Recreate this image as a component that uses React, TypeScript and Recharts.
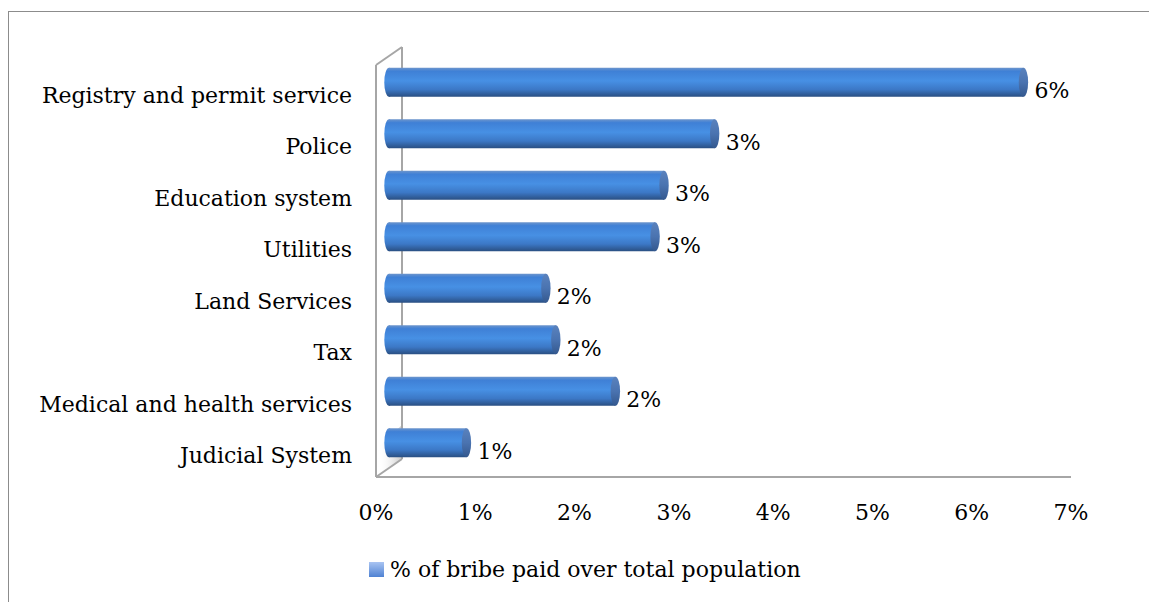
import React from 'react';
import { BarChart, Bar, XAxis, YAxis, Legend, LabelList, Customized } from 'recharts';

const categories = [
  'Registry and permit service',
  'Police',
  'Education system',
  'Utilities',
  'Land Services',
  'Tax',
  'Medical and health services',
  'Judicial System',
];
const bribeShare = [6.39, 3.28, 2.77, 2.68, 1.58, 1.68, 2.28, 0.78];
const xTicks = [0, 1, 2, 3, 4, 5, 6, 7];
const seriesName = '% of bribe paid over total population';

const data = categories.map((name, i) => ({ name, value: bribeShare[i] }));

// layout
const W = 1149;
const H = 602;
const X_AXIS_H = 60;
const M = { top: 65, right: 78, bottom: 125 - X_AXIS_H, left: 0 };
const Y_AXIS_W = 376;
const DEPTH_X = 26;
const DEPTH_Y = -18;
const FONT = '"DejaVu Serif", serif';
const GRID = '#a6a6a6';

const plotLeft = M.left + Y_AXIS_W;
const plotTop = M.top;
const plotBottom = H - M.bottom - X_AXIS_H;

function Wall() {
  const bx = plotLeft + DEPTH_X;
  return (
    <g>
      <defs>
        <linearGradient id="wallShade" x1="0" y1="0" x2="1" y2="0">
          <stop offset="0" stopColor="#ffffff" stopOpacity="0" />
          <stop offset="1" stopColor="#9a9a9a" stopOpacity="0.55" />
        </linearGradient>
      </defs>
      <polygon
        points={`${plotLeft + 2},${plotBottom - 30} ${bx},${plotBottom - 52} ${bx},${plotBottom + DEPTH_Y} ${plotLeft + 2},${plotBottom - 1}`}
        fill="url(#wallShade)"
      />
      <line x1={bx} y1={plotTop + DEPTH_Y} x2={bx} y2={plotBottom + DEPTH_Y} stroke={GRID} strokeWidth={2} />
      <line x1={plotLeft} y1={plotTop} x2={bx} y2={plotTop + DEPTH_Y} stroke={GRID} strokeWidth={2} />
      <line x1={plotLeft} y1={plotBottom} x2={bx} y2={plotBottom + DEPTH_Y} stroke={GRID} strokeWidth={2} />
    </g>
  );
}

function Cylinder(props: any) {
  const { x, y, width, height } = props;
  const x0 = x + DEPTH_X / 2;
  const x1 = x0 + width;
  const cy = y + height / 2 + DEPTH_Y / 2 + 0.75;
  const top = cy - height / 2;
  const rx = 4.7;
  return (
    <g>
      <ellipse cx={x0} cy={cy} rx={rx} ry={height / 2} fill="url(#cylBody)" />
      <rect x={x0} y={top} width={Math.max(width, 0)} height={height} fill="url(#cylBody)" />
      <ellipse cx={x1} cy={cy} rx={rx} ry={height / 2} fill="url(#cylCap)" />
    </g>
  );
}

function ValueLabel(props: any) {
  const { x, y, width, height, value } = props;
  return (
    <text x={x + width + 24} y={y + height / 2 + 7.5} fontFamily={FONT} fontSize={22} fill="#000">
      {`${Math.round(value)}%`}
    </text>
  );
}

function CategoryTick(props: any) {
  const { x, y, payload } = props;
  return (
    <text x={x} y={y + 12} textAnchor="end" fontFamily={FONT} fontSize={22} fill="#000">
      {payload.value}
    </text>
  );
}

function PercentTick(props: any) {
  const { x, y, payload } = props;
  return (
    <text x={x} y={y + 43} textAnchor="middle" fontFamily={FONT} fontSize={22} fill="#000">
      {`${payload.value}%`}
    </text>
  );
}

function LegendBox() {
  return (
    <div style={{ display: 'flex', alignItems: 'center', fontFamily: FONT, fontSize: 22, color: '#000', whiteSpace: 'nowrap' }}>
      <span
        style={{
          display: 'inline-block',
          width: 15,
          height: 15,
          marginRight: 6,
          background: 'linear-gradient(#a9c4f2, #4f82d3)',
        }}
      />
      <span>{seriesName}</span>
    </div>
  );
}

export default function App() {
  return (
    <div style={{ position: 'absolute', left: 0, top: 0, width: W, height: H, overflow: 'hidden', background: '#fff' }}>
      <div
        style={{
          position: 'absolute',
          left: 8,
          top: 11,
          width: W + 40,
          height: H + 40,
          border: '1.5px solid #8c8c8c',
        }}
      />
      <div style={{ position: 'absolute', left: 0, top: 0 }}>
        <BarChart width={W} height={H} data={data} layout="vertical" margin={M} barSize={29}>
          <defs>
            <linearGradient id="cylBody" x1="0" y1="0" x2="0" y2="1">
              <stop offset="0" stopColor="#6d95cc" />
              <stop offset="0.12" stopColor="#3f80d6" />
              <stop offset="0.45" stopColor="#4790e4" />
              <stop offset="0.75" stopColor="#3c78c6" />
              <stop offset="1" stopColor="#2a4f82" />
            </linearGradient>
            <linearGradient id="cylCap" x1="0" y1="0" x2="0" y2="1">
              <stop offset="0" stopColor="#5a82bd" />
              <stop offset="0.5" stopColor="#4a73b0" />
              <stop offset="1" stopColor="#34588e" />
            </linearGradient>
          </defs>
          <Customized component={Wall} />
          <XAxis
            type="number"
            domain={[0, 7]}
            ticks={xTicks}
            interval={0}
            axisLine={{ stroke: GRID, strokeWidth: 2 }}
            tickLine={false}
            tickSize={0}
            tickMargin={0}
            tick={<PercentTick />}
            height={X_AXIS_H}
          />
          <YAxis
            type="category"
            dataKey="name"
            width={Y_AXIS_W}
            axisLine={{ stroke: GRID, strokeWidth: 2 }}
            tickLine={false}
            tickSize={0}
            tickMargin={24}
            tick={<CategoryTick />}
            interval={0}
          />
          <Legend
            verticalAlign="middle"
            align="center"
            layout="horizontal"
            content={<LegendBox />}
            wrapperStyle={{ left: 369, top: 557, width: 500, height: 30 }}
          />
          <Bar dataKey="value" name={seriesName} shape={<Cylinder />} isAnimationActive={false}>
            <LabelList dataKey="value" content={<ValueLabel />} />
          </Bar>
        </BarChart>
      </div>
    </div>
  );
}
